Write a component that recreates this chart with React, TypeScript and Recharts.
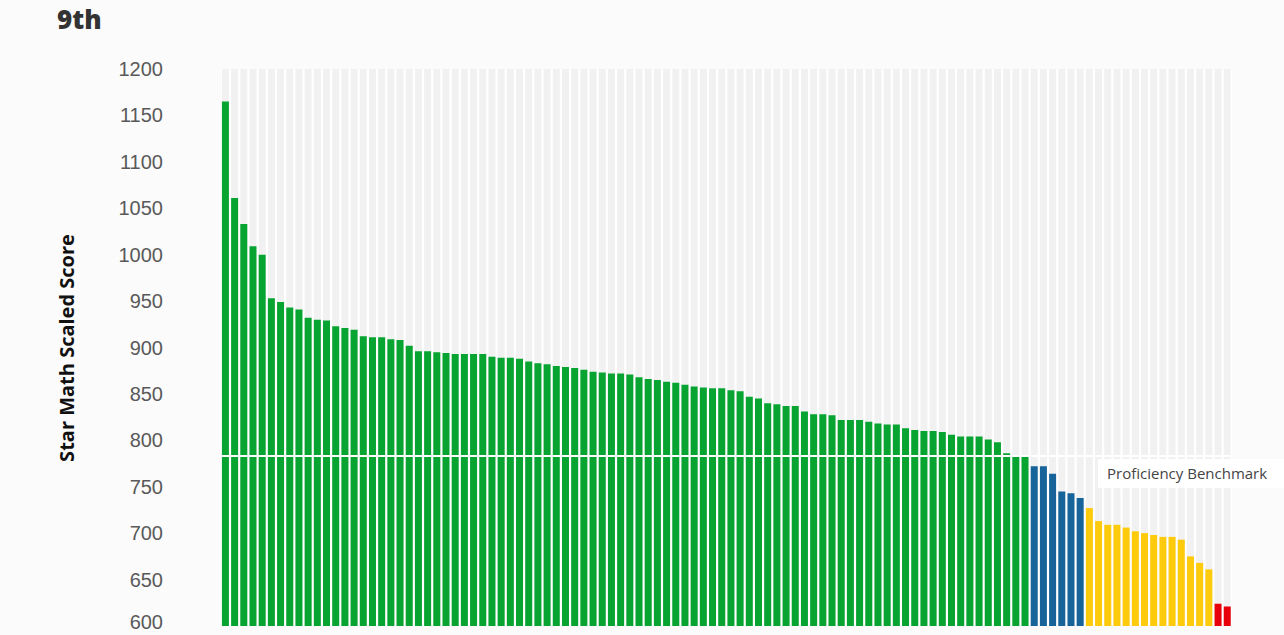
import React from "react";
import { Bar, BarChart, CartesianGrid, Cell, Label, ReferenceLine, XAxis, YAxis } from "recharts";

// scaled scores, one per student, sorted high to low
const scores = [
    1165, 1061, 1033, 1009, 1000, 953, 949, 943, 941, 932,
    930, 929, 923, 921, 919, 912, 911, 911, 909, 908,
    902, 896, 896, 895, 894, 893, 893, 893, 893, 890,
    889, 889, 888, 885, 883, 882, 880, 879, 878, 876,
    874, 873, 872, 872, 871, 868, 866, 865, 863, 862,
    860, 858, 857, 856, 856, 854, 853, 847, 845, 840,
    839, 837, 837, 831, 828, 828, 827, 822, 822, 822,
    820, 818, 817, 817, 813, 811, 810, 810, 809, 806,
    804, 804, 804, 801, 798, 786, 783, 783,
    772, 772, 764, 745, 743, 738,
    727, 713, 709, 709, 706, 702, 700, 698, 696, 696, 693, 675, 668, 661,
    624, 621,
];

const benchmark = 783;
// lower edge of each level, top level first
const levelCutoffs = [783, 735, 650];
const levelColors = ["#07a431", "#17649a", "#fdca0c", "#e8000b"];

const yTicks = [600, 650, 700, 750, 800, 850, 900, 950, 1000, 1050, 1100, 1150, 1200];

const students = scores.map((score, i) => ({ student: `S${i + 1}`, score }));

function levelColor(score: number) {
    const idx = levelCutoffs.findIndex((c) => score >= c);
    return levelColors[idx === -1 ? levelColors.length - 1 : idx];
}

const AxisTitle = () => (
    <text
        x={66}
        y={348}
        transform="rotate(-90 66 348)"
        textAnchor="middle"
        dominantBaseline="central"
        style={{ fontFamily: "'Open Sans', sans-serif", fontWeight: 700, fontSize: 20, fill: "#111" }}
    >
        Star Math Scaled Score
    </text>
);

// the lowest label sits at the page edge, nudge it up so it stays whole
const ScoreTick = (props: any) => {
    const { x, y, payload } = props;
    const nudge = payload.value === yTicks[0] ? -4 : 0;
    return (
        <text
            x={x}
            y={y + nudge}
            textAnchor="end"
            dominantBaseline="central"
            style={{ fontFamily: "'Liberation Sans', Arial, sans-serif", fontSize: 20, fill: "#595959" }}
        >
            {payload.value}
        </text>
    );
};

const BenchmarkLabel = (props: any) => {
    const { viewBox } = props;
    const right = viewBox.x + viewBox.width;
    return (
        <g>
            <rect x={right - 134} y={viewBox.y + 3} width={186} height={29} fill="#ffffff" />
            <text
                x={right - 125}
                y={viewBox.y + 23}
                style={{ fontFamily: "'Open Sans', sans-serif", fontSize: 15, fill: "#444" }}
            >
                Proficiency Benchmark
            </text>
        </g>
    );
};

export default function App() {
    return (
        <div style={{ position: "absolute", left: 0, top: 0, width: 1284, height: 635, background: "#fbfbfb" }}>
            <div
                style={{
                    position: "absolute",
                    left: 57,
                    top: 1,
                    fontFamily: "'Open Sans', sans-serif",
                    fontWeight: 800,
                    fontSize: 26,
                    lineHeight: "36px",
                    color: "#333",
                }}
            >
                9th
            </div>
            <BarChart
                width={1284}
                height={635}
                data={students}
                margin={{ top: 69, right: 52, bottom: 9, left: 0 }}
                barCategoryGap="10%"
            >
                <CartesianGrid horizontal={false} vertical={false} fill="#ffffff" />
                <XAxis dataKey="student" hide />
                <YAxis
                    width={221}
                    domain={[600, 1200]}
                    ticks={yTicks}
                    interval={0}
                    axisLine={false}
                    tickLine={false}
                    tickSize={0}
                    tickMargin={58}
                    tick={<ScoreTick />}
                >
                    <Label content={<AxisTitle />} />
                </YAxis>
                <Bar dataKey="score" background={{ fill: "#f1f1f1" }} isAnimationActive={false}>
                    {students.map((s) => (
                        <Cell key={s.student} fill={levelColor(s.score)} />
                    ))}
                </Bar>
                <ReferenceLine y={benchmark} stroke="#ffffff" strokeWidth={2} label={<BenchmarkLabel />} />
            </BarChart>
        </div>
    );
}
